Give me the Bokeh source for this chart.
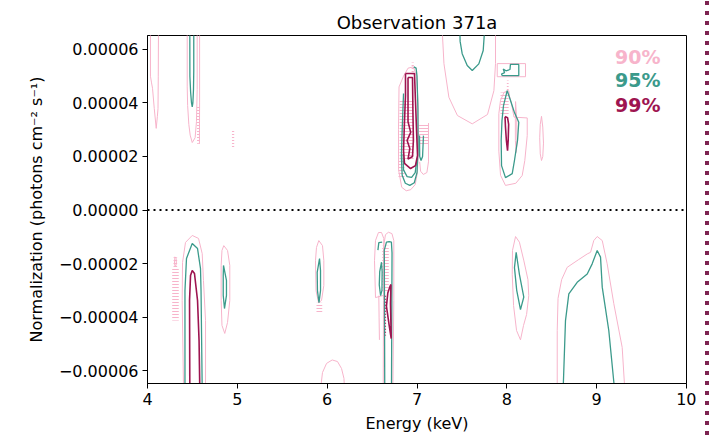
from bokeh.plotting import figure
from bokeh.models import Range1d, FixedTicker, Span, ColumnDataSource, Div
from bokeh.layouts import row
from bokeh.embed import file_html
from bokeh.resources import INLINE
from bokeh.core.properties import value

TITLE = "Observation 371a"
X_LABEL = "Energy (keV)"
Y_LABEL = "Normalization (photons cm\u207b\u00b2 s\u207b\u00b9)"
UNIT = 1e-5  # normalization values below are in units of 1e-5

x_ticks = [4, 5, 6, 7, 8, 9, 10]
y_ticks = [-6, -4, -2, 0, 2, 4, 6]
y_tick_labels = ["\u22120.00006", "\u22120.00004", "\u22120.00002", "0.00000",
                 "0.00002", "0.00004", "0.00006"]

levels = ["90%", "95%", "99%"]
level_colors = ["#f7b4cb", "#3b9a8b", "#9e1450"]

# ---- 90% contours (energy keV, normalization 1e-5) ----
p90_top_405 = [(4.033, 6.7), (4.033, 5.0), (4.045, 4.75), (4.056, 4.55), (4.075, 3.8), (4.097, 3.05),
               (4.11, 3.5), (4.117, 3.79), (4.12, 5.0), (4.122, 6.7)]
p90_top_450 = [(4.442, 6.7), (4.442, 4.6), (4.447, 3.9), (4.46, 3.2), (4.475, 2.8), (4.498, 2.52),
               (4.53, 2.7), (4.545, 3.3), (4.553, 4.5), (4.553, 6.7)]
p90_top_458 = [(4.58, 6.7), (4.58, 4.0), (4.578, 2.48)]
p90_top_690 = [(6.80, 4.6), (6.794, 3.0), (6.795, 1.5), (6.83, 0.85), (6.88, 0.72), (6.93, 0.76),
               (6.98, 0.95), (7.005, 1.4), (7.017, 2.5), (7.012, 4.0), (6.995, 5.0), (6.96, 5.35),
               (6.90, 5.3), (6.85, 5.0), (6.80, 4.6)]
p90_top_708 = [(7.128, 3.25), (7.128, 1.8), (7.11, 1.4), (7.07, 1.33), (7.04, 1.45), (7.03, 1.8)]
p90_top_760 = [(7.281, 6.7), (7.30, 5.47), (7.355, 4.21), (7.45, 3.53), (7.615, 3.22), (7.785, 3.57),
               (7.856, 4.46), (7.874, 5.47), (7.874, 6.7)]
p90_top_805 = [(7.893, 5.47), (8.208, 5.47), (8.208, 4.98), (7.893, 4.98), (7.893, 5.47)]
p90_top_806 = [(8.022, 4.46), (8.03, 4.25), (8.05, 4.0), (8.08, 3.47), (8.227, 3.44), (8.227, 2.78),
               (8.20, 1.85), (8.171, 1.29), (8.10, 1.0), (7.985, 0.92), (7.93, 1.3), (7.911, 2.2),
               (7.911, 3.6), (7.93, 4.1), (7.97, 4.4), (8.022, 4.46)]
p90_top_810 = [(8.097, 4.05), (8.11, 3.4), (8.113, 2.6), (8.104, 2.15), (8.095, 2.6), (8.095, 3.4),
               (8.097, 4.05)]
p90_top_839 = [(8.386, 3.5), (8.40, 3.1), (8.408, 2.5), (8.40, 2.0), (8.386, 1.85), (8.372, 2.1),
               (8.366, 2.7), (8.372, 3.2), (8.386, 3.5)]
p90_bot_450 = [(4.401, -6.7), (4.386, -3.38), (4.390, -1.96), (4.423, -1.21), (4.498, -0.95),
               (4.568, -1.06), (4.609, -1.63), (4.623, -2.63), (4.646, -4.13), (4.646, -6.7)]
p90_bot_431 = [(4.305, -1.75), (4.318, -1.8), (4.322, -2.0), (4.31, -2.12), (4.30, -2.0), (4.305, -1.75)]
p90_bot_487 = [(4.849, -1.33), (4.891, -1.51), (4.916, -2.07), (4.916, -3.38), (4.891, -4.20),
               (4.860, -4.61), (4.829, -4.31), (4.820, -3.38), (4.820, -2.07), (4.829, -1.51),
               (4.849, -1.33)]
p90_bot_591 = [(5.907, -1.14), (5.948, -1.33), (5.963, -1.89), (5.963, -2.82), (5.937, -3.38),
               (5.904, -3.46), (5.876, -3.01), (5.870, -1.89), (5.881, -1.40), (5.907, -1.14)]
p90_bot_606 = [(5.926, -6.7), (5.948, -6.07), (5.993, -5.73), (6.056, -5.60), (6.115, -5.66),
               (6.160, -5.92), (6.187, -6.29), (6.193, -6.7)]
p90_bot_658 = [(6.538, -3.27), (6.527, -1.89), (6.538, -1.14), (6.571, -0.84), (6.605, -0.84),
               (6.630, -1.06), (6.630, -1.89), (6.627, -3.19), (6.538, -3.27)]
p90_bot_668 = [(6.624, -6.7), (6.627, -3.38), (6.630, -1.33), (6.649, -0.92), (6.682, -0.83),
               (6.721, -0.88), (6.742, -1.14), (6.742, -3.38), (6.731, -6.7)]
p90_bot_657 = [(6.575, -3.2), (6.578, -4.0), (6.582, -4.85)]
p90_bot_815 = [(8.097, -0.99), (8.14, -1.2), (8.19, -1.9), (8.235, -2.6), (8.244, -3.2), (8.22, -3.9),
               (8.186, -4.31), (8.152, -4.85), (8.108, -4.5), (8.075, -3.57), (8.060, -2.4),
               (8.063, -1.51), (8.097, -0.99)]
p90_bot_890 = [(8.561, -6.7), (8.561, -4.5), (8.57, -3.3), (8.61, -2.6), (8.672, -2.14), (8.80, -1.85),
               (8.895, -1.64), (8.932, -1.58), (8.968, -1.14), (9.006, -0.99), (9.062, -1.14),
               (9.117, -2.01), (9.191, -3.50), (9.284, -5.13), (9.313, -6.7)]

# ---- 95% contours ----
t95_top_450 = [(4.471, 6.7), (4.472, 5.0), (4.48, 4.4), (4.49, 4.0), (4.498, 3.85), (4.505, 4.0),
               (4.512, 4.5), (4.515, 5.2), (4.515, 6.7)]
t95_top_690 = [(6.85, 4.35), (6.835, 3.0), (6.826, 2.0), (6.835, 1.3), (6.87, 1.0), (6.92, 0.92),
               (6.97, 1.02), (7.0, 1.4), (7.012, 2.3), (7.01, 3.8), (7.0, 5.0), (6.99, 5.3), (6.965, 5.35)]
t95_top_691 = [(6.845, 2.1), (6.85, 1.5), (6.89, 1.25), (6.94, 1.22), (6.98, 1.4), (6.995, 1.8)]
t95_top_705 = [(7.028, 2.78), (7.03, 2.0), (7.045, 1.85), (7.062, 2.0), (7.072, 2.78)]
t95_top_760 = [(7.477, 6.7), (7.48, 6.3), (7.503, 5.84), (7.559, 5.40), (7.615, 5.21), (7.688, 5.46),
               (7.737, 5.96), (7.752, 6.7)]
t95_top_805 = [(7.95, 5.02), (8.133, 5.02), (8.133, 5.44), (8.04, 5.44), (8.035, 5.25), (7.99, 5.2),
               (7.96, 5.27), (7.975, 5.13), (7.94, 5.08), (7.95, 5.02)]
t95_top_806 = [(8.004, 4.46), (8.041, 4.09), (8.085, 3.64), (8.133, 3.28), (8.119, 2.60), (8.085, 1.85),
               (8.060, 1.36), (7.985, 1.21), (7.941, 1.66), (7.937, 2.60), (7.946, 3.34), (7.963, 3.90),
               (8.004, 4.46)]
t95_bot_450 = [(4.417, -6.7), (4.417, -3.01), (4.434, -1.81), (4.498, -1.25), (4.557, -1.44),
               (4.590, -2.19), (4.596, -3.01), (4.609, -6.7)]
t95_bot_485 = [(4.846, -2.07), (4.879, -2.63), (4.879, -3.19), (4.857, -3.68), (4.843, -3.19),
               (4.843, -2.45), (4.846, -2.07)]
t95_bot_590 = [(5.915, -1.81), (5.926, -2.26), (5.926, -3.01), (5.909, -3.46), (5.892, -3.01),
               (5.889, -2.33), (5.915, -1.81)]
t95_bot_668 = [(6.641, -6.7), (6.638, -3.4), (6.636, -1.5), (6.66, -1.2), (6.69, -1.18), (6.715, -1.2),
               (6.722, -1.6), (6.72, -3.4), (6.716, -6.7)]
t95_bot_659 = [(6.612, -1.2), (6.575, -1.22), (6.565, -1.5)]
t95_bot_660 = [(6.605, -1.95), (6.585, -2.3), (6.58, -2.8), (6.595, -3.2), (6.61, -3.0), (6.612, -2.3),
               (6.605, -1.95)]
t95_bot_815 = [(8.104, -1.58), (8.14, -2.4), (8.189, -3.25), (8.152, -3.72), (8.11, -3.0), (8.085, -2.15),
               (8.104, -1.58)]
t95_bot_890 = [(8.627, -6.7), (8.653, -4.13), (8.690, -3.13), (8.783, -2.70), (8.895, -2.39),
               (8.950, -2.01), (9.006, -1.51), (9.043, -1.76), (9.062, -2.88), (9.135, -4.50), (9.199, -6.7)]

# ---- 99% contours ----
m99_top_690 = [(6.872, 5.10), (6.972, 5.10), (6.983, 4.09), (6.995, 2.97), (7.006, 2.04), (6.983, 1.66),
               (6.928, 1.55), (6.861, 1.74), (6.850, 2.22), (6.861, 3.34), (6.872, 4.28), (6.872, 5.10)]
m99_top_691 = [(6.90, 4.95), (6.95, 4.95), (6.955, 3.6), (6.96, 2.6), (6.95, 2.0), (6.90, 1.9), (6.92, 2.3),
               (6.89, 2.6), (6.93, 2.9), (6.90, 3.3), (6.90, 4.95)]
m99_top_800 = [(7.980, 3.49), (8.008, 3.45), (8.02, 3.2), (8.015, 2.6), (8.008, 2.22), (7.995, 2.6),
               (7.985, 3.1), (7.980, 3.49)]
m99_bot_452 = [(4.471, -6.7), (4.468, -3.38), (4.479, -2.45), (4.498, -2.26), (4.523, -2.37),
               (4.557, -3.38), (4.574, -4.87), (4.582, -6.7)]
m99_bot_670 = [(6.710, -2.78), (6.705, -3.5), (6.713, -4.8), (6.690, -4.3), (6.66, -3.6), (6.675, -3.1),
               (6.700, -2.85), (6.710, -2.78)]
m99_bot_665 = [(6.649, -3.2), (6.649, -4.69)]

# ---- grid-artifact hatching of the 90% level (energy / normalization extents) ----
hatch_e0 = [4.94, 4.551, 6.806, 6.794, 6.94, 7.017, 7.93, 8.00, 4.275, 4.29, 5.881, 6.613]
hatch_e1 = [4.965, 4.584, 6.961, 6.86, 6.965, 7.128, 8.02, 8.02, 4.348, 4.33, 5.945, 6.686]
hatch_n0 = [2.34, 2.48, 1.85, 1.2, 5.06, 2.41, 3.53, 4.46, -4.13, -2.14, -3.86, -3.08]
hatch_n1 = [3.01, 3.90, 4.09, 1.85, 5.51, 3.23, 4.39, 4.84, -2.14, -1.76, -3.46, -1.33]

c90 = [p90_top_405, p90_top_450, p90_top_458, p90_top_690, p90_top_708, p90_top_760, p90_top_805,
       p90_top_806, p90_top_810, p90_top_839, p90_bot_450, p90_bot_431, p90_bot_487, p90_bot_591,
       p90_bot_606, p90_bot_658, p90_bot_668, p90_bot_657, p90_bot_815, p90_bot_890]
c95 = [t95_top_450, t95_top_690, t95_top_691, t95_top_705, t95_top_760, t95_top_805, t95_top_806,
       t95_bot_450, t95_bot_485, t95_bot_590, t95_bot_668, t95_bot_659, t95_bot_660, t95_bot_815,
       t95_bot_890]
c99 = [m99_top_690, m99_top_691, m99_top_800, m99_bot_452, m99_bot_670]

FONT = "DejaVu Sans"

p = figure(width=696, height=441, output_backend="svg", toolbar_location=None,
           x_range=Range1d(4, 10), y_range=Range1d(-6.48 * UNIT, 6.52 * UNIT),
           min_border_left=147, min_border_right=10, min_border_top=35, min_border_bottom=58,
           title=TITLE)
p.background_fill_color = "white"
p.border_fill_color = "white"
p.outline_line_color = "black"
p.outline_line_alpha = 1.0
p.outline_line_width = 1
p.grid.visible = False

p.title.text_font = FONT
p.title.text_font_size = "18px"
p.title.text_font_style = "normal"
p.title.align = "center"
p.title.text_color = "black"
p.title.standoff = 5

p.xaxis.ticker = FixedTicker(ticks=x_ticks)
y_tick_vals = [t * UNIT for t in y_ticks]
p.yaxis.ticker = FixedTicker(ticks=y_tick_vals)
p.yaxis.major_label_overrides = {v: lab for v, lab in zip(y_tick_vals, y_tick_labels)}
p.xaxis.axis_label = X_LABEL
p.yaxis.axis_label = Y_LABEL
for ax in (p.xaxis, p.yaxis):
    ax.axis_label_text_font = FONT
    ax.axis_label_text_font_size = "16px"
    ax.axis_label_text_font_style = "normal"
    ax.axis_label_text_color = "black"
    ax.major_label_text_font = FONT
    ax.major_label_text_font_size = "16px"
    ax.major_label_text_color = "black"
    ax.minor_tick_line_color = None
    ax.major_tick_in = 0
    ax.major_tick_out = 5
    ax.major_tick_line_color = "black"
    ax.axis_line_color = "black"
    ax.major_label_standoff = 4
p.yaxis.axis_label_standoff = 10
p.xaxis.axis_label_standoff = 6

# hatching
p.quad(left=hatch_e0, right=hatch_e1,
       bottom=[n * UNIT for n in hatch_n0], top=[n * UNIT for n in hatch_n1],
       fill_alpha=0, line_color=None, hatch_pattern="horizontal_line",
       hatch_color=level_colors[0], hatch_scale=3, hatch_weight=1)

widths = [1.0, 1.3, 1.6]
for paths, col, w in zip([c90, c95, c99], level_colors, widths):
    xs = [[pt[0] for pt in path] for path in paths]
    ys = [[pt[1] * UNIT for pt in path] for path in paths]
    p.multi_line(xs=xs, ys=ys, line_color=col, line_width=w)

p.line(x=[pt[0] for pt in m99_bot_665], y=[pt[1] * UNIT for pt in m99_bot_665],
       line_color=level_colors[2], line_width=1.2, line_dash="1 2")

p.add_layout(Span(location=0, dimension="width", line_color="black", line_width=2, line_dash="2 4"))

# legend labels
legend_x = [9.711, 9.711, 9.711]
legend_y = [5.70 * UNIT, 4.84 * UNIT, 3.94 * UNIT]
src = ColumnDataSource(dict(x=legend_x, y=legend_y, text=levels, color=level_colors))
p.text(x="x", y="y", text="text", text_color="color", source=src, text_align="right",
       text_baseline="middle", text_font=value(FONT), text_font_style="bold", text_font_size="19px")

# decorative dotted strip at the right edge of the page
strip = Div(text="", width=16, height=441, margin=0,
            styles={"background-image": "repeating-linear-gradient(to bottom, #7d2350 0px, #7d2350 4px, "
                                        "transparent 4px, transparent 10px)",
                    "background-size": "4px 100%",
                    "background-position": "9px 1px",
                    "background-repeat": "no-repeat",
                    "width": "16px", "height": "441px"})

layout = row(p, strip)
open("out.html", "w").write(file_html(layout, INLINE))
